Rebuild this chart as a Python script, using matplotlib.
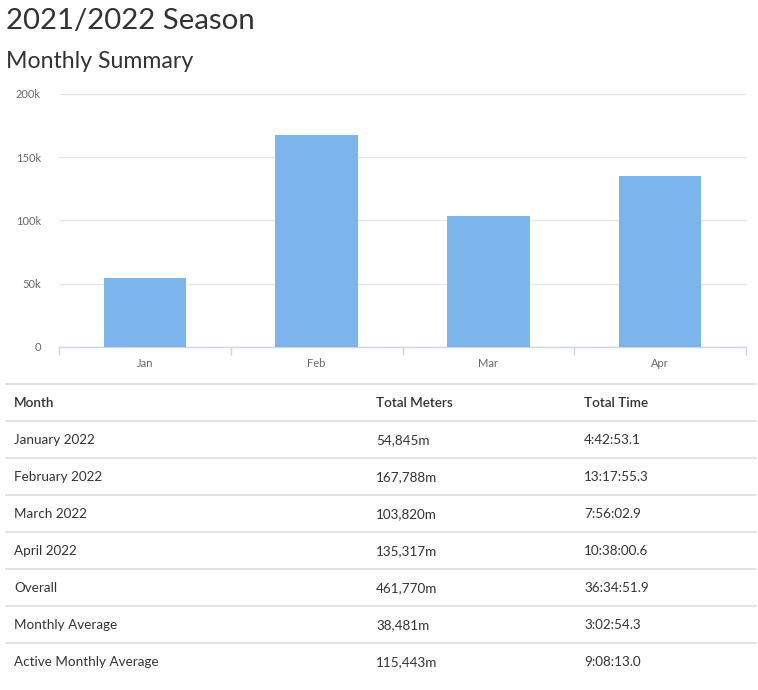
import matplotlib
matplotlib.use("Agg")
import matplotlib.pyplot as plt
from matplotlib.ticker import FuncFormatter, FixedLocator
import numpy as np

months = ["Jan", "Feb", "Mar", "Apr"]
meters = [54845, 167788, 103820, 135317]
yticks = [0, 50000, 100000, 150000, 200000]

table_header = ["Month", "Total Meters", "Total Time"]
row_names = ["January 2022", "February 2022", "March 2022", "April 2022",
             "Overall", "Monthly Average", "Active Monthly Average"]
row_meters = ["54,845m", "167,788m", "103,820m", "135,317m",
              "461,770m", "38,481m", "115,443m"]
row_times = ["4:42:53.1", "13:17:55.3", "7:56:02.9", "10:38:00.6",
             "36:34:51.9", "3:02:54.3", "9:08:13.0"]

plt.rcParams['font.family'] = ['Lato', 'DejaVu Sans']

W, H = 758, 690
fig = plt.figure(figsize=(W / 100, H / 100), dpi=100)

def fx(px):
    return px / W

def fy(py):
    return 1 - py / H

fig.text(fx(6), fy(21), "2021/2022 Season", fontsize=21.2, color="#333333", va="center", ha="left")
fig.text(fx(6), fy(62), "Monthly Summary", fontsize=16.7, color="#333333", va="center", ha="left")

ax = fig.add_axes([fx(59), fy(347), fx(746) - fx(59), fy(94) - fy(347)])
x = np.arange(len(months))
ax.bar(x, meters, width=0.48, color="#7cb5ec", zorder=3)
ax.set_xlim(-0.5, len(months) - 0.5)
ax.set_ylim(0, 200000)
ax.set_yticks(yticks)
ax.yaxis.set_major_formatter(FuncFormatter(lambda v, p: "0" if v == 0 else f"{int(v/1000)}k"))
ax.grid(axis="y", color="#e6e6e6", linewidth=1, zorder=0)
for s in ["top", "right", "left"]:
    ax.spines[s].set_visible(False)
ax.spines["bottom"].set_color("#ccd6eb")
ax.spines["bottom"].set_linewidth(1)
ax.set_xticks(x)
ax.set_xticklabels(months)
ax.tick_params(axis="x", which="major", length=0, pad=8, labelsize=8, labelcolor="#666666")
ax.xaxis.set_minor_locator(FixedLocator(np.arange(-0.5, len(months) + 0.5, 1.0)))
ax.tick_params(axis="x", which="minor", length=5.5, color="#ccd6eb", width=1)
ax.tick_params(axis="y", length=0, pad=13, labelsize=8, labelcolor="#666666")

# table
line_ys = [384 + 37 * i for i in range(8)]
for ly in line_ys:
    fig.add_artist(plt.Line2D([fx(6), fx(756)], [fy(ly), fy(ly)], color="#dddddd", linewidth=1.2))

col_x = [14, 376, 584]
text_y0 = 402
for j, h in enumerate(table_header):
    fig.text(fx(col_x[j]), fy(text_y0), h, fontsize=9.7, color="#333333",
             fontweight="semibold", va="center_baseline", ha="left")
for i in range(len(row_names)):
    yy = text_y0 + 37 * (i + 1)
    for j, val in enumerate([row_names[i], row_meters[i], row_times[i]]):
        fig.text(fx(col_x[j]), fy(yy), val, fontsize=9.7, color="#333333",
                 va="center_baseline", ha="left")

fig.savefig("out.png", dpi=100, facecolor="white")
